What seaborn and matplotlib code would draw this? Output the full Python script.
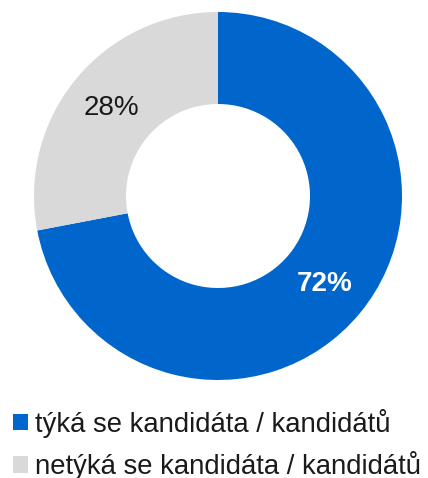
import matplotlib
matplotlib.use('Agg')
import matplotlib.pyplot as plt
import seaborn as sns
from matplotlib.patches import Patch

# Data
categories = ['týká se kandidáta / kandidátů', 'netýká se kandidáta / kandidátů']
shares = [72, 28]
colors = ['#0066CC', '#D9D9D9']
label_colors = ['white', '#1a1a1a']
label_weights = ['bold', 'normal']

sns.set_theme(style='white')
plt.rcParams['font.family'] = ['Liberation Sans', 'DejaVu Sans']

fig = plt.figure(figsize=(4.28, 4.78), dpi=100)
ax = fig.add_axes([34 / 428, 98 / 478, 368 / 428, 368 / 478])

wedges, texts, autotexts = ax.pie(
    shares, colors=colors, startangle=90, counterclock=False,
    radius=1, autopct='%d%%', pctdistance=0.75,
    wedgeprops=dict(width=0.5, linewidth=0),
)
for t, c, w in zip(autotexts, label_colors, label_weights):
    t.set_color(c)
    t.set_fontsize(20)
    t.set_fontweight(w)
ax.set_xlim(-1, 1)
ax.set_ylim(-1, 1)
ax.set_aspect('equal')
ax.axis('off')

# Legend below the donut
handles = [Patch(facecolor=c, edgecolor='none') for c in colors]
fig.legend(handles, categories, loc='upper left', bbox_to_anchor=(0.005, 0.168),
           frameon=False, fontsize=19.8, handlelength=0.55, handleheight=0.55,
           handletextpad=0.25, labelspacing=0.5, borderaxespad=0, labelcolor='#1a1a1a')

fig.savefig('out.png', dpi=100)
